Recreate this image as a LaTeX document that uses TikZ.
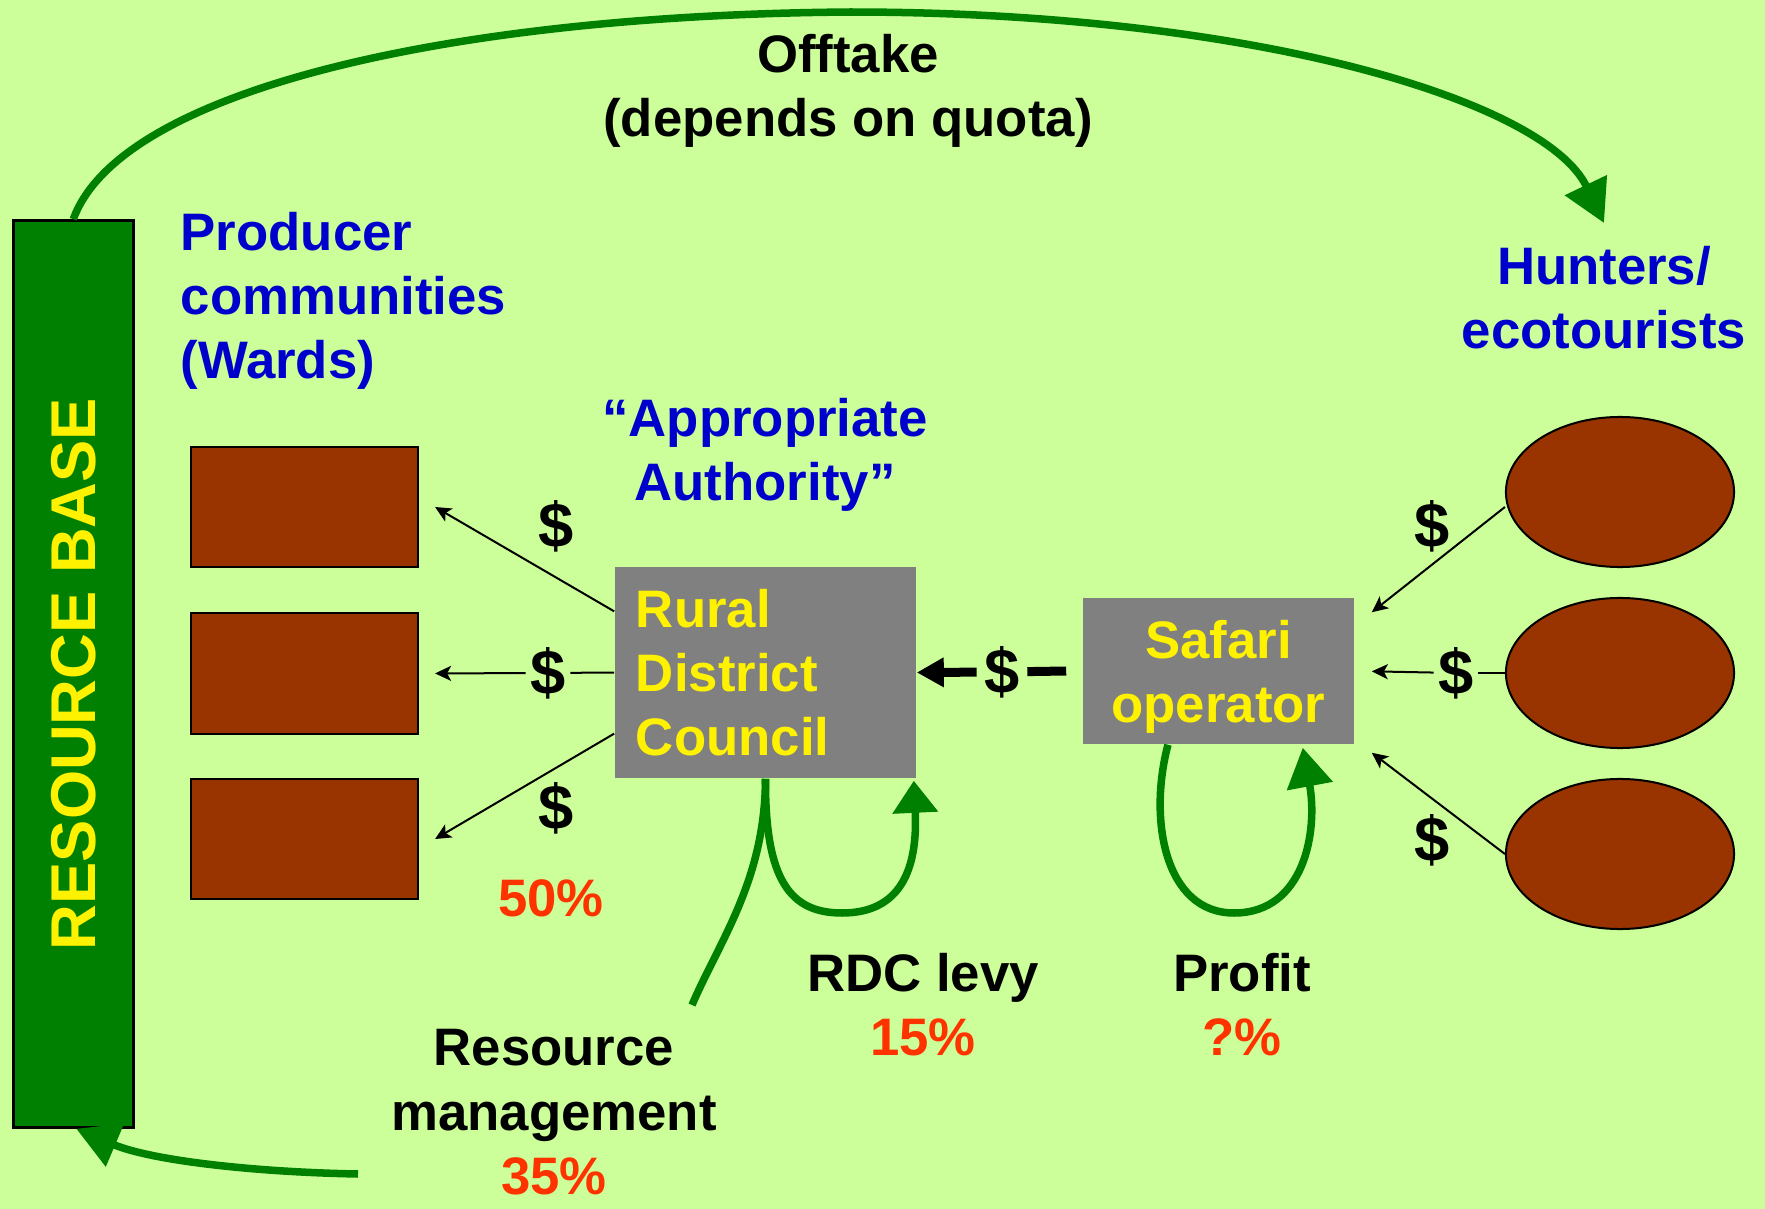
\documentclass[tikz,border=0pt]{standalone}
\usepackage{fontspec}
\setmainfont{Liberation Sans}
\usetikzlibrary{arrows.meta,positioning,shapes.geometric}
\definecolor{bgcol}{RGB}{204,255,153}
\definecolor{dkgreen}{RGB}{0,128,0}
\definecolor{rust}{RGB}{153,51,0}
\definecolor{greybox}{RGB}{128,128,128}
\definecolor{labblue}{RGB}{0,0,204}
\definecolor{pctred}{RGB}{255,51,0}
\begin{document}
\begin{tikzpicture}[x=0.01cm, y=-0.01cm,
  txt/.style={font=\fontsize{15}{18.2}\selectfont\bfseries, inner sep=0pt, align=center},
  rbase/.style={draw, line width=0.03cm, fill=dkgreen, text=yellow, rotate=90, minimum width=9.06cm, minimum height=1.195cm, font=\fontsize{18}{20}\selectfont\bfseries},
  ward/.style={draw, line width=0.02cm, fill=rust, minimum width=2.27cm, minimum height=1.2cm, inner sep=0pt},
  hunter/.style={draw, ellipse, line width=0.02cm, fill=rust, minimum width=2.28cm, minimum height=1.5cm, inner sep=0pt},
  council/.style={txt, fill=greybox, text=yellow, minimum width=3.01cm, minimum height=2.11cm},
  dollar/.style={txt, font=\fontsize{18}{20}\selectfont\bfseries, inner sep=0.04cm},
  money/.style={line width=0.02cm, -{Stealth[length=0.16cm,width=0.15cm,inset=0.04cm]}},
  flow/.style={dkgreen, line width=0.075cm, -{Triangle[length=0.42cm,width=0.45cm]}}
]
\useasboundingbox (0,0) rectangle (1765,1209);
\fill [bgcol] (0,0) rectangle (1765,1209);

\node [rbase] (rb) at (73.3,674) {RESOURCE BASE};
\node [ward] (w1) at (304.5,507) {};
\node [ward] (w2) at (304.5,673.5) {};
\node [ward] (w3) at (304.5,839) {};
\node [hunter] (e1) at (1620,492) {};
\node [hunter] (e2) at (1620,673) {};
\node [hunter] (e3) at (1620,854) {};
\node [council, text width=2.59cm, align=left] (rdc) at (765.5,672.5) {Rural\\District\\Council};
\node [council, minimum width=2.71cm, minimum height=1.46cm, text depth=0pt] (so) at (1218.5,671) {Safari\\operator};

\node [txt, anchor=north] (offt) at (848,34) {Offtake\\(depends on quota)};
\node [txt, anchor=north west, align=left, text=labblue] (prod) at (180,212) {Producer\\communities\\(Wards)};
\node [txt, anchor=north, text=labblue] (hunt) at (1604,246) {Hunters/\\ecotourists};
\node [txt, anchor=north, text=labblue] (auth) at (765,398) {“Appropriate\\Authority”};
\node [txt, anchor=north, text=pctred] (half) at (551,879) {50\%};
\node [txt, anchor=north] (levy) at (923,953) {RDC levy\\\textcolor{pctred}{15\%}};
\node [txt, anchor=north] (prof) at (1242,953) {Profit\\\textcolor{pctred}{?\%}};
\node [txt, anchor=north] (rm) at (554,1029) {Resource\\management\\\textcolor{pctred}{35\%}};

\node [dollar] (d1) at (556,526) {\$};
\node [dollar] (d2) at (548,673) {\$};
\node [dollar] (d3) at (556,808) {\$};
\node [dollar, inner sep=0.07cm] (d4) at (1002,672) {\$};
\node [dollar] (d5) at (1432,526) {\$};
\node [dollar] (d6) at (1456,673) {\$};
\node [dollar] (d7) at (1432,840) {\$};

\coordinate (rmtop) at (692,1005);
\coordinate (rmfoot) at (358,1174);

\draw [flow] (rb.east) .. controls (120,90) and (450,15) .. (850,12) .. controls (1250,12) and (1545,100) .. ([yshift=0.23cm]hunt.north);
\draw [flow] (rmfoot) .. controls (250,1172) and (150,1160) .. ([xshift=0.03cm]rb.west);
\draw [dkgreen, line width=0.075cm] (rdc.south) .. controls (765,880) and (720,940) .. (rmtop);
\draw [flow, -{Triangle[length=0.32cm,width=0.44cm]}] (rdc.south) .. controls (765,880) and (790,913) .. (842,913) .. controls (900,913) and (918,870) .. ([xshift=-0.03cm,yshift=-0.02cm]rdc.south east);
\draw [flow, -{Triangle[length=0.39cm,width=0.45cm]}] ([xshift=-0.505cm]so.south) .. controls (1148,820) and (1165,913) .. (1234,913) .. controls (1305,913) and (1318,830) .. ([xshift=-0.52cm,yshift=-0.03cm]so.south east);

\draw [money] (rdc.158) -- ([xshift=0.16cm]w1.east);
\draw [line width=0.02cm] (rdc.west) -- (d2);
\draw [money, shorten >=0.16cm] (d2) -- (w2.east);
\draw [money] (rdc.202) -- ([xshift=0.16cm]w3.east);

\draw [line width=0.09cm] ([xshift=-0.16cm]so.west) -- (d4);
\draw [line width=0.09cm, -{Triangle[length=0.27cm,width=0.28cm]}] (d4) -- (rdc.east);

\draw [money] ([yshift=-0.15cm]e1.west) -- ([xshift=0.17cm,yshift=-0.15cm]so.north east);
\draw [line width=0.02cm] (e2.west) -- (d6);
\draw [money, shorten >=0.17cm] (d6) -- (so.east);
\draw [money] (e3.west) -- ([xshift=0.17cm,yshift=-0.08cm]so.south east);
\end{tikzpicture}
\end{document}
